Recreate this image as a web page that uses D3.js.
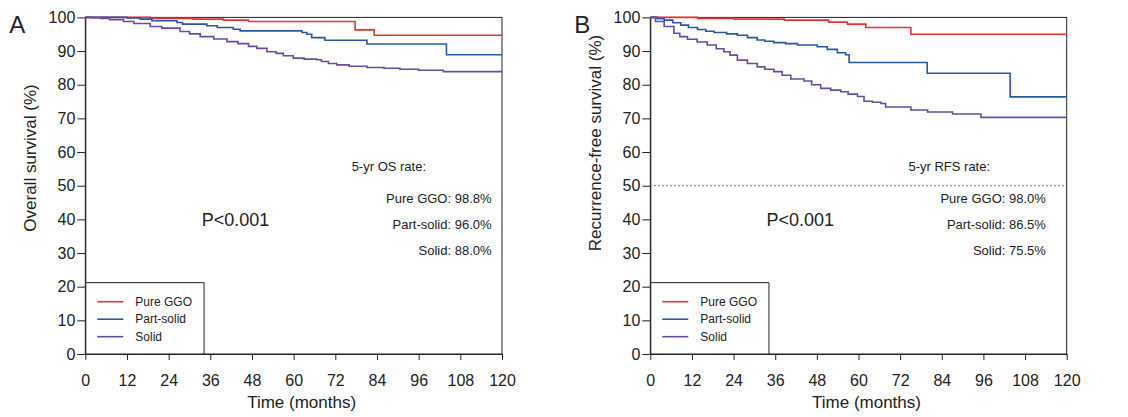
<!DOCTYPE html>
<html>
<head>
<meta charset="utf-8">
<script src="https://cdn.jsdelivr.net/npm/d3@7"></script>
<style>
  body { margin: 0; background: #fff; }
  text { font-family: "Liberation Sans", Arial, Helvetica, sans-serif; fill: #222; }
</style>
</head>
<body>
<svg id="chart" width="1128" height="417"></svg>
<script>
const groups = ["Pure GGO", "Part-solid", "Solid"];
const colors = ["#e8332f", "#2a56aa", "#6a4aa8"];
const monthTicks = [0, 12, 24, 36, 48, 60, 72, 84, 96, 108, 120];
const pctTicks = [0, 10, 20, 30, 40, 50, 60, 70, 80, 90, 100];

// panel A: overall survival, [month, %]
const osPure = [[0,100],[18.7,99.7],[31,99.5],[39.8,99.2],[47,98.8],[77.7,96.3],[83.2,94.7],[120,94.7]];
const osPart = [[0,100],[12,99.8],[15.8,99.5],[19.2,99],[26.4,98.5],[28,98],[35,97.5],[38,97],[42.6,96.5],
  [44.6,96],[62.4,95.5],[63.8,95],[65.2,94],[69,93.2],[81.1,92.1],[104,88.9],[120,88.9]];
const osSolid = [[0,100],[2,99.9],[4.3,99.7],[7,99.3],[11,98.8],[14,98.2],[18.7,97.3],[22,96.8],[27.3,95.8],
  [30,95.1],[33.1,94.3],[37,93.6],[40.8,92.8],[44,92.2],[47,91.4],[49.4,90.8],[52.3,89.8],[55,89.3],[57,88.6],
  [59.9,87.9],[63,87.6],[66.6,87.4],[68,86.9],[70,86.3],[72.4,85.9],[76,85.5],[81.1,85.1],[86,84.9],[90.6,84.6],
  [96,84.3],[103.1,83.9],[120,83.9]];

// panel B: recurrence-free survival
const rfsPure = [[0,100],[13.6,99.7],[24.2,99.5],[38.6,99.2],[51.4,98.6],[56.8,98],[62.1,97],[75.1,95],[120,95]];
const rfsPart = [[0,100],[2,99.6],[4,99.2],[6.5,98.4],[8.8,97.7],[11,97],[13.6,96.4],[16,95.9],[18.4,95.5],
  [22,95.1],[25.1,94.7],[28,94],[30.8,93.3],[33,92.9],[35.6,92.5],[39,92.2],[42.4,91.8],[48.1,91.3],[51,90.5],
  [53.9,89.5],[56.3,88.9],[57.3,86.6],[79.8,83.4],[103.7,76.4],[120,76.4]];
const rfsSolid = [[0,100],[1.5,98.8],[4,97.3],[6.8,95.3],[8.5,94.3],[10.7,93.5],[13.5,92.7],[16.4,91.8],[19,90.7],
  [21.2,89.8],[23,88.8],[25.1,87.3],[28,86.3],[30.8,85.3],[33,84.6],[35.6,83.9],[38,82.8],[40.5,81.7],[44.3,81.1],
  [46.5,80],[49.1,78.9],[52,78.4],[54.9,77.9],[57,77.2],[59.7,76.5],[61.6,75.1],[64,74.8],[66.5,74.4],[67.8,73.4],
  [75.1,72.5],[79.9,71.9],[87.1,71.3],[95.3,70.3],[120,70.3]];

const osRates = ["98.8%", "96.0%", "88.0%"];
const rfsRates = ["98.0%", "86.5%", "75.5%"];

const svg = d3.select("#chart");

const panels = [
  { letter: "A", left: 85.3, right: 502, yTitle: "Overall survival (%)", yTitleY: 158,
    series: [osPure, osPart, osSolid], rateTitle: "5-yr OS rate:", rates: osRates,
    rateX: 76.7, rateRight: 117, median: false },
  { letter: "B", left: 650.3, right: 1066.7, yTitle: "Recurrence-free survival (%)", yTitleY: 143,
    series: [rfsPure, rfsPart, rfsSolid], rateTitle: "5-yr RFS rate:", rates: rfsRates,
    rateX: 74.4, rateRight: 114, median: true }
];

const plotTop = 17.4, plotBottom = 354;

panels.forEach(p => {
  const x = d3.scaleLinear().domain([0, 120]).range([p.left, p.right]);
  const y = d3.scaleLinear().domain([0, 100]).range([plotBottom, plotTop]);
  const g = svg.append("g");

  // frame
  g.append("rect")
    .attr("x", p.left).attr("y", plotTop)
    .attr("width", p.right - p.left).attr("height", plotBottom - plotTop)
    .attr("fill", "none").attr("stroke", "#222").attr("stroke-width", 1);

  const yAxis = g.append("g")
    .attr("transform", `translate(${p.left},0)`)
    .call(d3.axisLeft(y).tickValues(pctTicks).tickSize(8).tickSizeOuter(0).tickPadding(2));
  yAxis.selectAll("text").style("font-size", "16px");

  const xAxis = g.append("g")
    .attr("transform", `translate(0,${plotBottom})`)
    .call(d3.axisBottom(x).tickValues(monthTicks).tickSize(6).tickSizeOuter(0).tickPadding(15));
  xAxis.selectAll("text").style("font-size", "16px");
  g.selectAll(".domain, .tick line").attr("stroke", "#222");

  // titles
  g.append("text")
    .attr("x", (p.left + p.right) / 2 + 8).attr("y", 408)
    .attr("text-anchor", "middle").style("font-size", "17px")
    .text("Time (months)");
  g.append("text")
    .attr("transform", `translate(${p.left - 49},${p.yTitleY}) rotate(-90)`)
    .attr("text-anchor", "middle").style("font-size", "17px")
    .text(p.yTitle);
  g.append("text")
    .attr("x", p.left - 76).attr("y", 33)
    .style("font-size", "24px")
    .text(p.letter);

  if (p.median) {
    g.append("line")
      .attr("x1", x(0)).attr("x2", x(120))
      .attr("y1", y(50)).attr("y2", y(50))
      .attr("stroke", "#444").attr("stroke-width", 1)
      .attr("stroke-dasharray", "1.5,2.5");
  }

  // survival curves
  const line = d3.line()
    .x(d => x(d[0])).y(d => y(d[1]))
    .curve(d3.curveStepAfter);
  g.selectAll("path.km")
    .data(p.series)
    .join("path")
    .attr("class", "km")
    .attr("d", line)
    .attr("fill", "none")
    .attr("stroke", (d, i) => colors[i])
    .attr("stroke-width", 1.6);

  // annotations
  g.append("text")
    .attr("x", x(33.5)).attr("y", 226)
    .style("font-size", "18px")
    .text("P<0.001");
  g.append("text")
    .attr("x", x(p.rateX)).attr("y", 171)
    .style("font-size", "13px")
    .text(p.rateTitle);
  g.selectAll("text.rate")
    .data(groups)
    .join("text")
    .attr("class", "rate")
    .attr("x", x(p.rateRight))
    .attr("y", (d, i) => 203.3 + i * 25.9)
    .attr("text-anchor", "end")
    .style("font-size", "13px")
    .text((d, i) => d + ": " + p.rates[i]);

  // legend
  const legTop = y(21.2);
  const legRight = x(34.2);
  g.append("path")
    .attr("d", `M${p.left},${legTop}H${legRight}V${plotBottom}`)
    .attr("fill", "none").attr("stroke", "#222").attr("stroke-width", 1);
  const leg = g.selectAll("g.leg")
    .data(groups)
    .join("g")
    .attr("class", "leg")
    .attr("transform", (d, i) => `translate(${p.left},${301.7 + i * 17.5})`);
  leg.append("line")
    .attr("x1", 12).attr("x2", 38)
    .attr("stroke", (d, i) => colors[i]).attr("stroke-width", 1.6);
  leg.append("text")
    .attr("x", 50).attr("dy", "0.35em")
    .style("font-size", "12px")
    .text(d => d);
});
</script>
</body>
</html>
